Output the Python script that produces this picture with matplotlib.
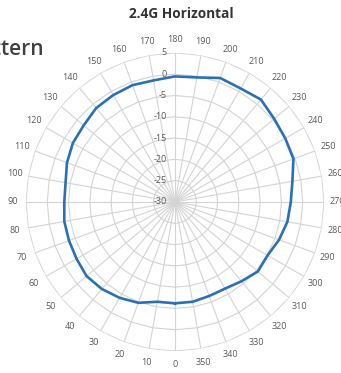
import numpy as np
import matplotlib

matplotlib.use('Agg')
import matplotlib.pyplot as plt

# gain in dB for every 10 degrees (0..350)
angles = list(range(0, 360, 10))
gain_db = [-6.2, -6.2, -4.8, -4.0, -3.3, -2.9, -3.3, -3.5, -3.6, -4.0,
           -3.9, -3.0, -2.3, -2.0, -1.2, -1.0, -0.8, -1.0, -0.5, -0.3,
           1.0, 0.8, 1.4, 0.4, -0.1, -0.4, -2.0, -2.8, -3.2, -4.0,
           -4.9, -4.6, -5.7, -6.5, -6.5, -6.2]
ring_values = [5, 0, -5, -10, -15, -20, -25, -30]
title = '2.4G Horizontal'

r_min, r_max = -30, 5
grid_color = '#d4d4d4'
text_color = '#595959'
line_color = '#2a70b4'

fig = plt.figure(figsize=(3.41, 3.73), dpi=100)
ax = fig.add_axes([0.0762, 0.059, 0.874, 0.799], projection='polar')
ax.set_theta_zero_location('S')
ax.set_theta_direction(-1)
ax.set_ylim(r_min, r_max)
ax.grid(False)
ax.set_xticks([])
ax.set_yticks([])
ax.spines['polar'].set_visible(False)
ax.patch.set_alpha(0)

th = np.radians(angles)
th_closed = np.append(th, th[0])

# polygon rings like excel radar gridlines
for rv in ring_values[:-1]:
    ax.plot(th_closed, [rv] * len(th_closed), color=grid_color, lw=0.8, zorder=1)
for t in th:
    ax.plot([t, t], [r_min, r_max], color=grid_color, lw=0.8, zorder=1)

ax.plot(th_closed, gain_db + [gain_db[0]], color=line_color, lw=1.9, zorder=3)

for a in angles:
    ax.text(np.radians(a), 8.2, str(a), ha='center', va='center',
            fontsize=6.5, color=text_color, family='Open Sans')
for rv in ring_values:
    ax.annotate(str(rv), xy=(np.pi, rv), xytext=(-6, 0), textcoords='offset points',
                ha='right', va='center', fontsize=6.5, color=text_color, family='Open Sans')

fig.text(0.531, 0.962, title, ha='center', va='center', fontsize=9.8,
         fontweight='bold', color='#333333', family='Open Sans')
fig.text(0.128, 0.868, 'Pattern', ha='right', va='center', fontsize=15,
         fontweight='semibold', color='#404040', family='Open Sans')

fig.savefig('out.png', dpi=100)
